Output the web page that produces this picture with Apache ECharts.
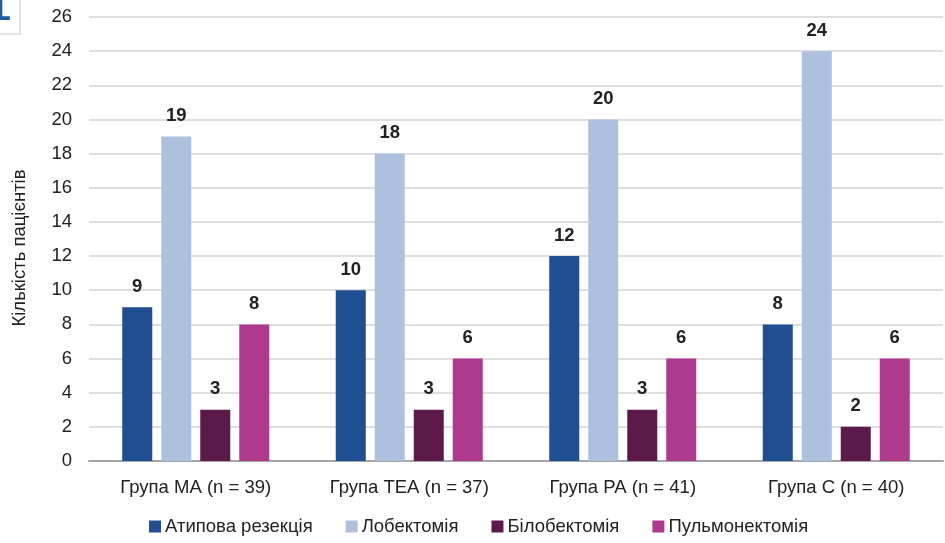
<!DOCTYPE html>
<html>
<head>
<meta charset="utf-8">
<script src="https://cdn.jsdelivr.net/npm/echarts@6/dist/echarts.min.js"></script>
<style>html,body{margin:0;padding:0;background:#fff}#c{width:945px;height:543px}</style>
</head>
<body>
<div id="c"></div>
<script>
const categories = ['Група МА (n = 39)', 'Група ТЕА (n = 37)', 'Група РА (n = 41)', 'Група С (n = 40)'];
const seriesNames = ['Атипова резекція', 'Лобектомія', 'Білобектомія', 'Пульмонектомія'];
const atypical = [9, 10, 12, 8];
const lobectomy = [19, 18, 20, 24];
const bilobectomy = [3, 3, 3, 2];
const pneumonectomy = [8, 6, 6, 6];
const yTicks = [0, 2, 4, 6, 8, 10, 12, 14, 16, 18, 20, 22, 24, 26];
const colors = ['#1f4e91', '#adc0de', '#5b1a4a', '#ae3a8e'];
const values = [atypical, lobectomy, bilobectomy, pneumonectomy];
const FONT = 'Liberation Sans';

const chart = echarts.init(document.getElementById('c'), null, {renderer: 'canvas'});
chart.setOption({
  animation: false,
  textStyle: {fontFamily: FONT},
  graphic: [
    {type: 'rect', shape: {x: -2, y: -2, width: 22, height: 36}, style: {fill: '#fff', stroke: '#e4e4e4', lineWidth: 2}},
    {type: 'text', x: -2, y: -6, scaleX: 0.6, style: {text: 'L', fill: '#1f5aa0', font: 'bold 34px ' + FONT, verticalAlign: 'top'}}
  ],
  grid: {left: 89, right: 2, top: 17, bottom: 82, containLabel: false},
  legend: {
    bottom: 2, left: 144,
    itemWidth: 12, itemHeight: 12, itemGap: 33,
    icon: 'rect',
    textStyle: {fontSize: 18.5, color: '#222', fontFamily: FONT, padding: [0, 0, 0, -1]},
    data: seriesNames
  },
  xAxis: {
    type: 'category',
    data: categories,
    axisLine: {lineStyle: {color: '#a6a6a6', width: 2}},
    axisTick: {show: false},
    axisLabel: {fontSize: 18.5, color: '#222', margin: 17, fontFamily: FONT}
  },
  yAxis: {
    type: 'value',
    min: yTicks[0], max: yTicks[yTicks.length - 1], interval: 2,
    name: 'Кількість пацієнтів',
    nameLocation: 'middle', nameGap: 60, nameRotate: 90,
    nameTextStyle: {fontSize: 18.5, color: '#222', fontFamily: FONT, padding: [0, 18, 0, 0]},
    axisLine: {show: false}, axisTick: {show: false},
    axisLabel: {fontSize: 18.5, color: '#222', margin: 17, fontFamily: FONT},
    splitLine: {lineStyle: {color: '#d4d4d4', width: 1.5}}
  },
  series: seriesNames.map((n, i) => ({
    name: n, type: 'bar', data: values[i],
    barWidth: 30, barGap: '30%',
    itemStyle: {color: colors[i]},
    label: {show: true, position: 'top', distance: 11, fontSize: 18.5, fontWeight: 'bold', color: '#222', fontFamily: FONT}
  }))
});
</script>
</body>
</html>
